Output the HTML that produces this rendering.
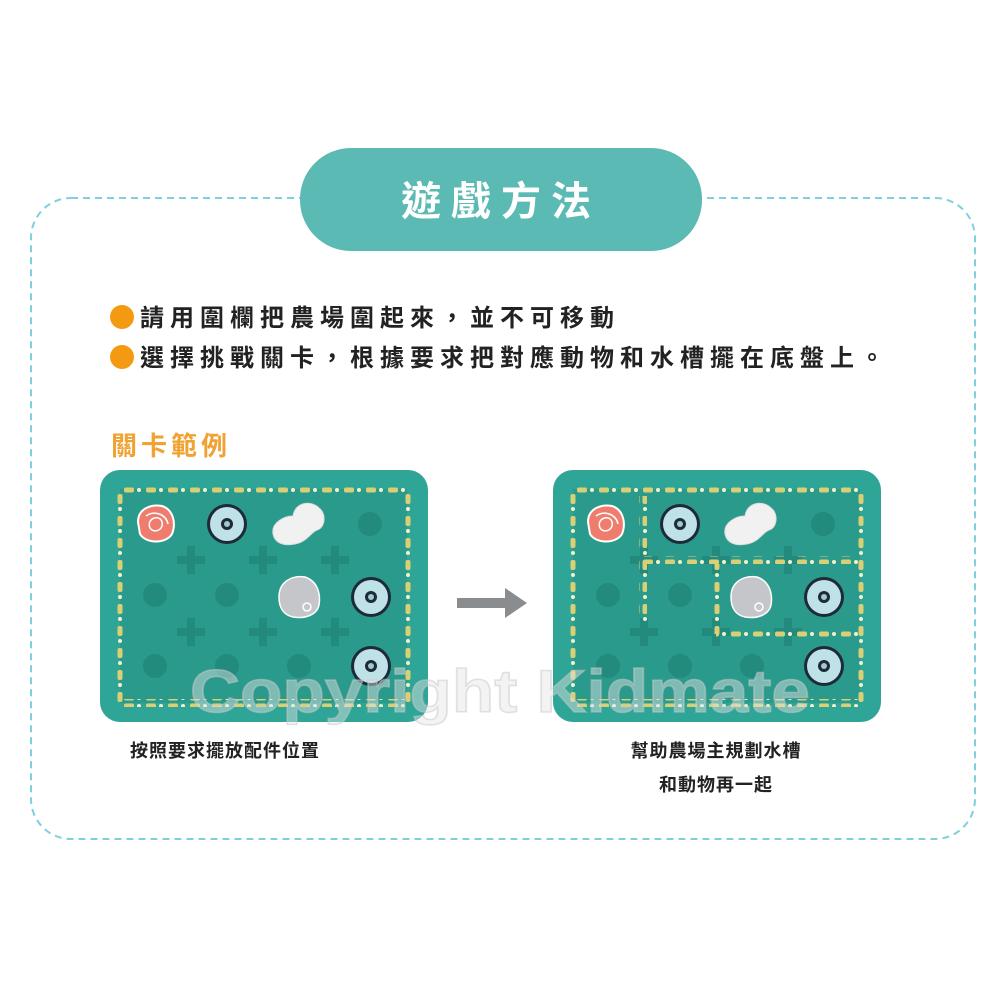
<!DOCTYPE html>
<html><head><meta charset="utf-8"><style>
html,body{margin:0;padding:0;background:#fff;}
svg{display:block;}
text{font-family:"Liberation Sans","Noto Sans CJK TC",sans-serif;}
</style></head><body>
<svg width="1000" height="1000" viewBox="0 0 1000 1000" xmlns="http://www.w3.org/2000/svg">
<defs>
<g id="plus"><rect x="-14" y="-4" width="28" height="8" fill="#238a7e"/><rect x="-4" y="-14" width="8" height="28" fill="#238a7e"/></g>
<g id="dot"><circle r="12" fill="#238a7e"/></g>
<g id="disc"><circle r="20" fill="#1e2a38"/><circle r="17" fill="#bfe1e8"/><circle r="6" fill="#1e2a38"/><circle r="3" fill="#9fc9d4"/></g>
<g id="rose"><path d="M-18,-2 C-18,-16 -4,-20 6,-18 C18,-14 20,0 16,10 C10,20 -10,20 -16,10 Z" fill="#ef7d6e" stroke="#fff" stroke-width="2"/><path d="M-6,4 C-10,-6 4,-10 6,-2 C8,6 -2,10 -6,4 M-10,-8 C-2,-14 10,-10 12,0" fill="none" stroke="#fff" stroke-width="1.5"/></g>
<g id="cow"><path d="M-26,10 C-28,-2 -14,-8 -6,-8 C-4,-22 12,-24 20,-16 C28,-10 26,4 18,6 C12,8 8,18 -4,20 C-14,22 -24,20 -26,10 Z" fill="#f1f1f1" stroke="#ddd" stroke-width="1"/></g>
<g id="sheep"><path d="M-20,0 C-20,-16 -6,-22 6,-20 C18,-16 22,-4 20,8 C18,18 6,22 -6,20 C-16,18 -20,10 -20,0 Z" fill="#c4c6ca" stroke="#fff" stroke-width="1.5"/><circle cx="8" cy="10" r="4" fill="none" stroke="#fff" stroke-width="1.5"/></g>
<pattern id="fh" width="22" height="8" patternUnits="userSpaceOnUse"><rect x="2" y="1.5" width="10" height="5" rx="2" fill="#d9cf74"/><circle cx="17" cy="4" r="2" fill="#f3f0c8"/></pattern>
<pattern id="fv" width="8" height="22" patternUnits="userSpaceOnUse"><rect x="1.5" y="2" width="5" height="10" rx="2" fill="#d9cf74"/><circle cx="4" cy="17" r="2" fill="#f3f0c8"/></pattern>
<g id="board">
<rect x="0" y="0" width="328" height="252" rx="20" fill="#2ea596"/>
<rect x="20" y="19" width="287" height="214" fill="#2a9a8c"/>
<use href="#dot" x="270" y="54"/>
<use href="#dot" x="55" y="125"/><use href="#dot" x="127" y="125"/>
<use href="#dot" x="55" y="196"/><use href="#dot" x="127" y="196"/><use href="#dot" x="199" y="196"/>
<use href="#plus" x="91" y="90"/><use href="#plus" x="163" y="90"/><use href="#plus" x="235" y="90"/>
<use href="#plus" x="91" y="162"/><use href="#plus" x="163" y="162"/><use href="#plus" x="235" y="162"/>
<rect x="20" y="15" width="287" height="8" fill="url(#fh)"/>
<rect x="20" y="229" width="287" height="8" fill="url(#fh)"/>
<rect x="16" y="19" width="8" height="214" fill="url(#fv)"/>
<rect x="303" y="19" width="8" height="214" fill="url(#fv)"/>
</g>
</defs>

<rect x="31" y="198" width="944" height="641" rx="40" fill="none" stroke="#7fd0dd" stroke-width="2" stroke-dasharray="7,5"/>
<rect x="300" y="148" width="402" height="103" rx="51" fill="#5bbab3"/>
<text x="501" y="215" text-anchor="middle" font-size="40" font-weight="bold" fill="#fff" letter-spacing="10">遊戲方法</text>

<circle cx="122" cy="317" r="12" fill="#f39a12"/>
<text x="140" y="326" font-size="24" font-weight="bold" fill="#222" letter-spacing="6">請用圍欄把農場圍起來，並不可移動</text>
<circle cx="122" cy="357" r="12" fill="#f39a12"/>
<text x="140" y="366" font-size="24" font-weight="bold" fill="#222" letter-spacing="6">選擇挑戰關卡，根據要求把對應動物和水槽擺在底盤上。</text>

<text x="111" y="455" font-size="26" font-weight="bold" fill="#f0a232" letter-spacing="4">關卡範例</text>

<g transform="translate(100,470)">
<use href="#board"/>
<use href="#rose" x="56" y="54"/><use href="#disc" x="127" y="54"/><use href="#cow" x="199" y="54"/>
<use href="#sheep" x="199" y="127"/><use href="#disc" x="271" y="127"/><use href="#disc" x="271" y="196"/>
</g>

<g transform="translate(553,470)">
<use href="#board"/>
<rect x="86" y="26" width="8" height="130" fill="url(#fv)"/>
<rect x="90" y="86" width="217" height="8" fill="url(#fh)"/>
<rect x="159" y="94" width="8" height="70" fill="url(#fv)"/>
<rect x="163" y="159" width="144" height="8" fill="url(#fh)"/>
<use href="#rose" x="53" y="54"/><use href="#disc" x="127" y="54"/><use href="#cow" x="198" y="54"/>
<use href="#sheep" x="198" y="127"/><use href="#disc" x="271" y="127"/><use href="#disc" x="271" y="196"/>
</g>

<polygon points="457,598 505,598 505,588 527,603 505,618 505,608 457,608" fill="#8a8d90"/>

<text x="190" y="712" textLength="620" lengthAdjust="spacingAndGlyphs" font-size="60" font-weight="bold" fill="#e4e4e4" fill-opacity="0.45" stroke="#c8c8c8" stroke-opacity="0.5" stroke-width="1.5" font-family="Liberation Mono">Copyright Kidmate</text>

<text x="130" y="757" font-size="18" font-weight="bold" fill="#222" letter-spacing="1">按照要求擺放配件位置</text>
<text x="716" y="757" text-anchor="middle" font-size="18" font-weight="bold" fill="#222" letter-spacing="1">幫助農場主規劃水槽</text>
<text x="716" y="791" text-anchor="middle" font-size="18" font-weight="bold" fill="#222" letter-spacing="1">和動物再一起</text>
</svg>
</body></html>
